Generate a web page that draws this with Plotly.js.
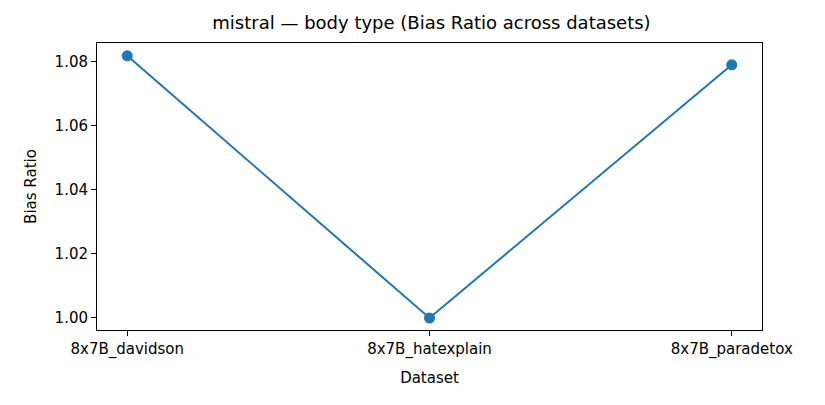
<!DOCTYPE html>
<html>
<head>
<script src="https://cdn.plot.ly/plotly-3.0.1.min.js"></script>
<style>body{margin:0}</style>
</head>
<body>
<div id="chart" style="width:825px;height:405px"></div>
<script>
const datasets = ["8x7B_davidson", "8x7B_hatexplain", "8x7B_paradetox"];
const biasRatio = [1.0819, 1.0000, 1.0791];

const axisBase = {
    showline: true, mirror: true, linecolor: "#000", linewidth: 1,
    ticks: "outside", ticklen: 5, tickcolor: "#000", showgrid: false, zeroline: false,
    tickfont: {size: 15, color: "#000"}
};

Plotly.newPlot("chart", [{
    x: [0, 1, 2], y: biasRatio, type: "scatter", mode: "lines+markers",
    line: {color: "#1f77b4", width: 2}, marker: {color: "#1f77b4", size: 11}
}], {
    width: 825, height: 405,
    margin: {l: 97, r: 63, t: 43, b: 75},
    paper_bgcolor: "#fff", plot_bgcolor: "#fff",
    font: {family: "DejaVu Sans", color: "#000"},
    title: {text: "mistral — body type (Bias Ratio across datasets)", font: {size: 18}, x: 0.523, xanchor: "center", y: 0.945, yanchor: "middle"},
    xaxis: {...axisBase, range: [-0.1, 2.1], tickvals: [0, 1, 2], ticktext: datasets,
        title: {text: "Dataset", font: {size: 15}, standoff: 14}},
    yaxis: {...axisBase, range: [0.99625, 1.0859], tickvals: [1.00, 1.02, 1.04, 1.06, 1.08], tickformat: ".2f",
        title: {text: "Bias Ratio", font: {size: 15}, standoff: 14}},
    showlegend: false
}, {displayModeBar: false});
</script>
</body>
</html>
